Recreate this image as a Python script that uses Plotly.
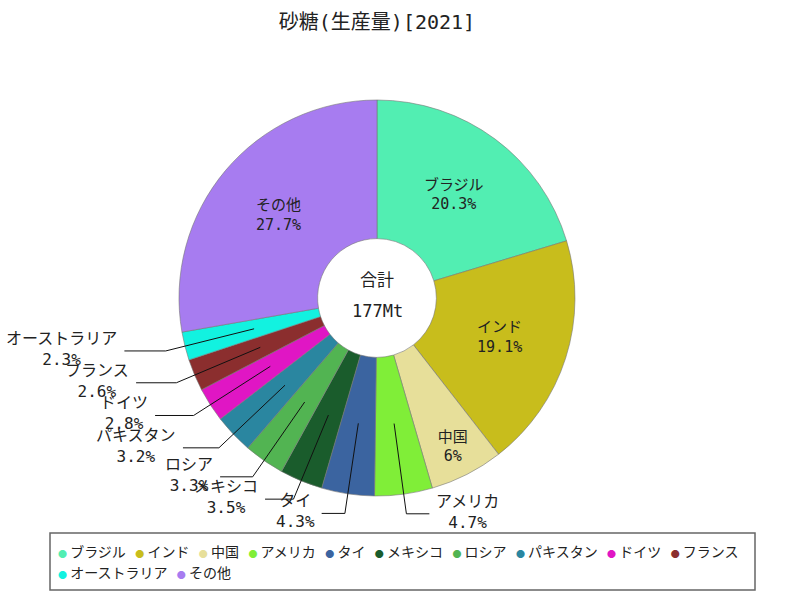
import math
import plotly.graph_objects as go

countries = ["ブラジル", "インド", "中国", "アメリカ", "タイ", "メキシコ", "ロシア",
             "パキスタン", "ドイツ", "フランス", "オーストラリア", "その他"]
shares = [20.3, 19.1, 6, 4.7, 4.3, 3.5, 3.3, 3.2, 2.8, 2.6, 2.3, 27.7]
colors = ["#52EEB2", "#C8BD1C", "#E7DF9A", "#80EE38", "#3B64A0", "#1A5C2C",
          "#52B452", "#2A86A0", "#E016C4", "#8B2E2E", "#12F2E0", "#A77CF0"]
total_label = "177Mt"
title = "砂糖(生産量)[2021]"

FONT = "DejaVu Sans Mono, Noto Sans CJK JP"
JP = "Noto Sans CJK JP"

# plot area in pixels (800x600 page)
ML, MR, MT, MB = 0, 46, 100, 104
PW, PH = 800 - ML - MR, 600 - MT - MB
R = min(PW, PH) / 2
CX, CY = ML + PW / 2, MT + PH / 2


def px(x):
    return (x - ML) / PW


def py(y):
    return (600 - MB - y) / PH


def pct(v):
    s = f"{v:.1f}".rstrip("0").rstrip(".")
    return s + "%"


inside = [v >= 5 for v in shares]
texts = [f"{c}<br>{pct(v)}" if ins else "" for c, v, ins in zip(countries, shares, inside)]

fig = go.Figure(go.Pie(
    labels=countries,
    values=shares,
    text=texts,
    textinfo="text",
    textposition=["inside" if ins else "none" for ins in inside],
    insidetextorientation="horizontal",
    insidetextfont=dict(family=FONT, size=15, color="#222"),
    marker=dict(colors=colors, line=dict(color="#777", width=0.6)),
    hole=0.3,
    sort=False,
    direction="clockwise",
    rotation=0,
    showlegend=False,
    hoverinfo="label+percent",
))

shapes = []
annotations = []

# leader lines + outside labels for small slices
total = sum(shares)
cum = 0
for c, v, ins in zip(countries, shares, inside):
    mid = (cum + v / 2) / total * 2 * math.pi
    cum += v
    if ins:
        continue
    s, co = math.sin(mid), math.cos(mid)
    x0, y0 = CX + 0.64 * R * s, CY - 0.64 * R * co
    x1, y1 = CX + 1.1 * R * s, CY - 1.1 * R * co
    seg = 20 + 22 * abs(s)
    side = 1 if s >= 0 else -1
    x2 = x1 + side * seg
    shapes.append(dict(
        type="path", xref="paper", yref="paper",
        path=f"M {px(x0)},{py(y0)} L {px(x1)},{py(y1)} L {px(x2)},{py(y1)}",
        line=dict(color="#111", width=1),
    ))
    annotations.append(dict(
        x=px(x2 + side * 5), y=py(y1 - 2), xref="paper", yref="paper",
        text=f"{c}<br>{pct(v)}", showarrow=False,
        xanchor="left" if side > 0 else "right", yanchor="middle", align="center",
        font=dict(family=FONT, size=16, color="#222"),
    ))

# center total
annotations.append(dict(x=px(CX), y=py(CY - 18), xref="paper", yref="paper",
                        text="合計", showarrow=False,
                        font=dict(family=FONT, size=17, color="#222")))
annotations.append(dict(x=px(CX), y=py(CY + 13), xref="paper", yref="paper",
                        text=total_label, showarrow=False,
                        font=dict(family=FONT, size=17, color="#222")))

# manual legend box
shapes.append(dict(type="rect", xref="paper", yref="paper",
                   x0=px(50), x1=px(755), y0=py(533), y1=py(590),
                   line=dict(color="#666", width=1.5), fillcolor="white"))
rows = [list(range(0, 10)), list(range(10, 12))]
for r, idx in enumerate(rows):
    parts = [f"<span style='color:{colors[i]};font-size:9px'>●</span>&nbsp;{countries[i]}" for i in idx]
    annotations.append(dict(
        x=px(56), y=py(551 + r * 21), xref="paper", yref="paper",
        text="&nbsp;&nbsp;&nbsp;".join(parts), showarrow=False,
        xanchor="left", yanchor="middle",
        font=dict(family=JP, size=14, color="#222"),
    ))

fig.update_layout(
    width=800, height=600,
    margin=dict(l=ML, r=MR, t=MT, b=MB),
    paper_bgcolor="white",
    title=dict(text=title, x=px(377), xref="paper", y=1 - 22 / 600, yref="container",
               xanchor="center", yanchor="middle",
               font=dict(family=FONT, size=20, color="#222")),
    shapes=shapes,
    annotations=annotations,
)

fig.write_html("out.html", config={"displayModeBar": False},
               post_script="document.body.style.margin='0';")
